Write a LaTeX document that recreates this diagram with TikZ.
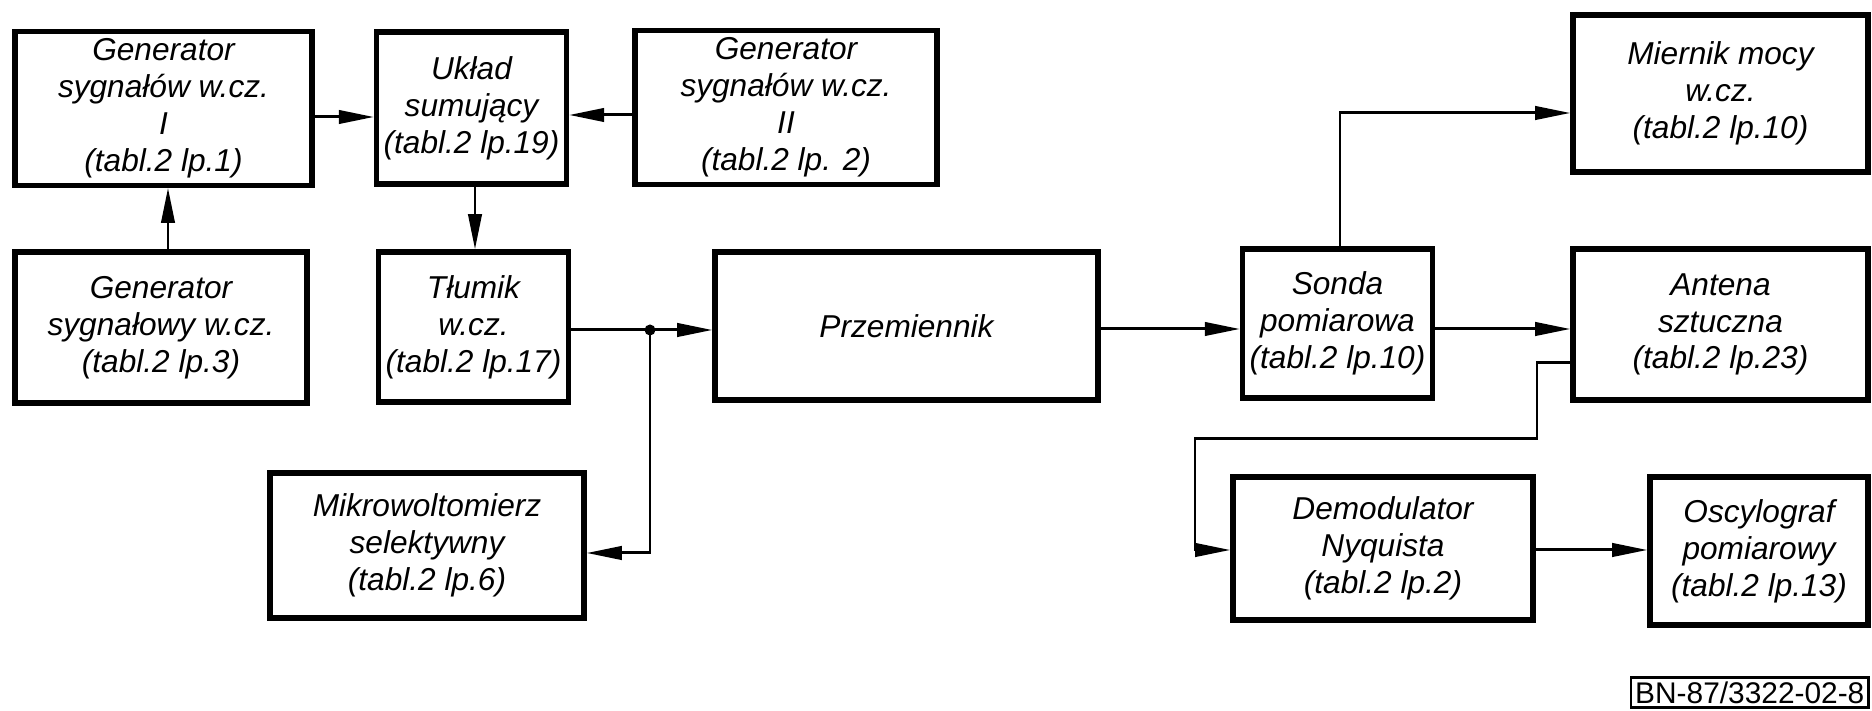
\documentclass[tikz,border=0pt]{standalone}
\usepackage{fontspec}
\setmainfont{Liberation Sans}
\usetikzlibrary{arrows.meta}
\begin{document}
\begin{tikzpicture}[x=1cm,y=1cm,
  blk/.style={draw,line width=1.5pt,rectangle,align=center,inner sep=2pt,
    font=\fontsize{9}{10.5}\selectfont\itshape},
  conn/.style={line width=0.85pt},
  arr/.style={conn,-{Triangle[length=10pt,width=3.8pt]}},
  lbl/.style={draw,line width=0.8pt,inner sep=1.2pt,font=\fontsize{8.5}{9}\selectfont}
]
\useasboundingbox[fill=white] (0,0) rectangle (18.72,-7.11);

\node[blk,minimum width=2.97cm,minimum height=1.51cm] (G1) at (1.635,-1.085)
  {Generator\\sygnałów w.cz.\\I\\(tabl.2 lp.1)};
\node[blk,minimum width=1.87cm,minimum height=1.52cm] (U) at (4.715,-1.08)
  {Układ\\sumujący\\(tabl.2 lp.19)};
\node[blk,minimum width=3.02cm,minimum height=1.51cm] (G2) at (7.86,-1.075)
  {Generator\\sygnałów w.cz.\\II\\(tabl.2 lp. 2)};
\node[blk,minimum width=2.95cm,minimum height=1.57cm] (M) at (17.205,-0.935)
  {Miernik mocy\\w.cz.\\(tabl.2 lp.10)};
\node[blk,minimum width=2.92cm,minimum height=1.51cm] (G3) at (1.61,-3.275)
  {Generator\\sygnałowy w.cz.\\(tabl.2 lp.3)};
\node[blk,minimum width=1.87cm,minimum height=1.50cm] (T) at (4.735,-3.27)
  {Tłumik\\w.cz.\\(tabl.2 lp.17)};
\node[blk,minimum width=3.83cm,minimum height=1.48cm] (P) at (9.065,-3.26)
  {Przemiennik};
\node[blk,minimum width=1.89cm,minimum height=1.49cm] (S) at (13.375,-3.235)
  {Sonda\\pomiarowa\\(tabl.2 lp.10)};
\node[blk,minimum width=2.95cm,minimum height=1.51cm] (A) at (17.205,-3.245)
  {Antena\\sztuczna\\(tabl.2 lp.23)};
\node[blk,minimum width=3.14cm,minimum height=1.45cm] (Mk) at (4.27,-5.455)
  {Mikrowoltomierz\\selektywny\\(tabl.2 lp.6)};
\node[blk,minimum width=3.00cm,minimum height=1.43cm] (D) at (13.83,-5.485)
  {Demodulator\\Nyquista\\(tabl.2 lp.2)};
\node[blk,minimum width=2.18cm,minimum height=1.48cm] (O) at (17.59,-5.51)
  {Oscylograf\\pomiarowy\\(tabl.2 lp.13)};

\node[lbl,anchor=south east] (bn) at (18.70,-7.09) {BN-87/3322-02-8};

\coordinate (J) at (6.50,-3.30);
\coordinate (c1) at (15.37,-3.63);
\coordinate (c2) at (15.37,-4.39);
\coordinate (c3) at (11.95,-4.39);
\coordinate (c4) at (11.95,-5.50);
\coordinate (sm) at (13.40,-1.13);
\coordinate (h1) at (0,-1.17);
\coordinate (h2) at (0,-1.15);
\coordinate (h3) at (0,-5.53);
\coordinate (h4) at (0,-3.29);
\coordinate (v1) at (1.68,0);
\coordinate (v2) at (4.75,0);

\draw[arr] (G1.east |- h1) -- (U.west |- h1);
\draw[arr] (G2.west |- h2) -- (U.east |- h2);
\draw[arr] (G3.north -| v1) -- (G1.south -| v1);
\draw[arr] (U.south -| v2) -- (T.north -| v2);
\draw[conn] (T.east |- J) -- (J);
\draw[arr] (J) -- (P.west |- J);
\fill (J) circle (0.055);
\draw[arr] (J) |- (Mk.east |- h3);
\draw[arr] (P.east |- h4) -- (S.west |- h4);
\draw[arr] (S.east |- h4) -- (A.west |- h4);
\draw[arr] (S.north -| sm) |- (M.west |- sm);
\draw[arr] (A.west |- c1) -- (c1) -- (c2) -- (c3) -- (c4) -- (D.west |- c4);
\draw[arr] (D.east |- c4) -- (O.west |- c4);
\end{tikzpicture}
\end{document}
